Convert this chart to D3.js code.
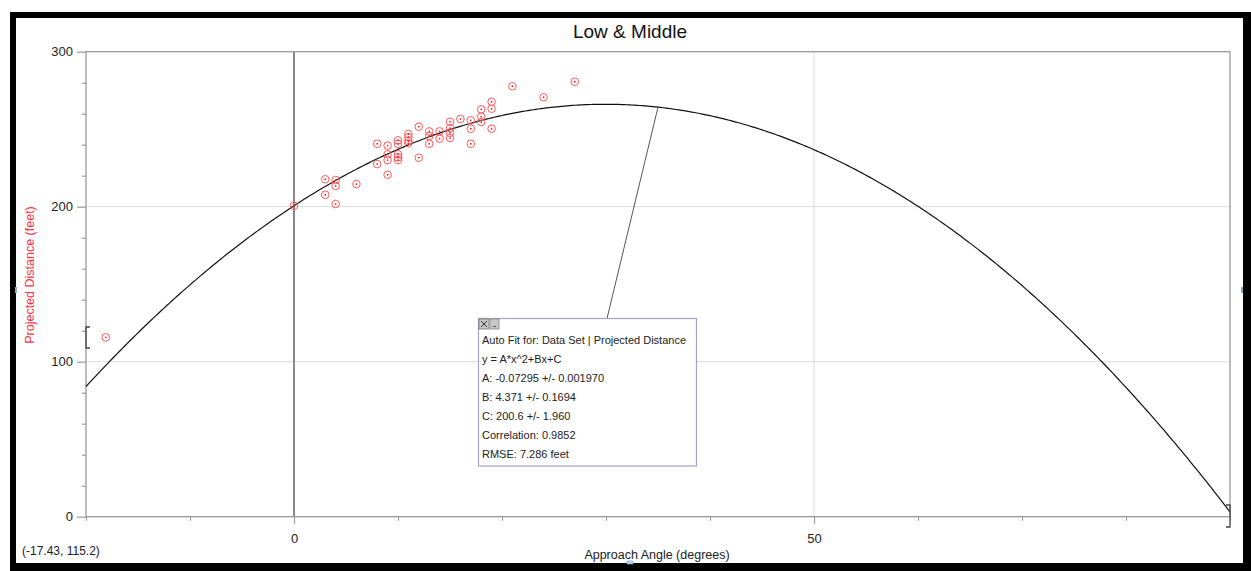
<html>
<head>
<style>
  body { margin: 0; background: #fff; }
  svg { font-family: "Liberation Sans", Arial, sans-serif; }
</style>
</head>
<body>
<svg id="chart" width="1251" height="571"></svg>
<script src="https://cdn.jsdelivr.net/npm/d3@7/dist/d3.min.js"></script>
<script>
// approach angle (degrees) and projected distance (feet)
let angles = [-18.1, 0, 3, 4, 4, 3, 4, 6, 8, 8, 9, 9, 9, 9, 10, 10, 10, 10, 10,
  11, 11, 11, 11, 12, 12, 13, 13, 13, 14, 14, 15, 15, 15, 15, 16, 17, 17, 17,
  18, 18, 18, 19, 19, 19, 21, 24, 27]
let distances = [115.7, 200.6, 217.7, 217.2, 213.4, 207.7, 201.7, 214.6, 240.6, 227.5,
  239.4, 233.8, 230.1, 220.6, 242.8, 240.6, 233.8, 231.9, 230.1,
  246.9, 244.8, 242.4, 240.9, 251.6, 231.6, 248.6, 245.6, 240.6, 248.6, 243.9,
  254.8, 250.6, 247.7, 244.3, 256.6, 255.7, 250.3, 240.6,
  262.8, 258.1, 254.6, 267.7, 263.2, 250.3, 277.7, 270.6, 280.6]

// auto fit y = A*x^2 + B*x + C
let fitA = -0.07295, fitB = 4.371, fitC = 200.6
let fitText = ["Auto Fit for: Data Set | Projected Distance", "y = A*x^2+Bx+C",
  "A: -0.07295 +/- 0.001970", "B: 4.371 +/- 0.1694", "C: 200.6 +/- 1.960",
  "Correlation: 0.9852", "RMSE: 7.286 feet"]

let xMajor = [0, 50]
let xMinor = [-20, -10, 10, 20, 30, 40, 60, 70, 80, 90]
let yMajor = [0, 100, 200, 300]
let yMinor = [20, 40, 60, 80, 120, 140, 160, 180, 220, 240, 260, 280]

let svg = d3.select("#chart")

// black frame
svg.append("rect").attr("x", 10).attr("y", 12).attr("width", 1241).attr("height", 559).attr("fill", "#000")
svg.append("rect").attr("x", 16).attr("y", 18).attr("width", 1227).attr("height", 545).attr("fill", "#fff")

let plotLeft = 86, plotTop = 51.7, plotRight = 1230, plotBottom = 516.7
let x = d3.scaleLinear().domain([-20, 90]).range([plotLeft, plotRight])
let y = d3.scaleLinear().domain([0, 300]).range([plotBottom, plotTop])

// grid
svg.selectAll("line.hgrid").data([100, 200]).enter().append("line")
  .attr("x1", plotLeft).attr("x2", plotRight).attr("y1", d => y(d)).attr("y2", d => y(d))
  .attr("stroke", "#dcdcdc").attr("stroke-width", 1)
svg.append("line").attr("x1", x(50)).attr("x2", x(50)).attr("y1", plotTop).attr("y2", plotBottom)
  .attr("stroke", "#dcdcdc").attr("stroke-width", 1)
svg.append("line").attr("x1", x(0)).attr("x2", x(0)).attr("y1", plotTop).attr("y2", plotBottom)
  .attr("stroke", "#8a8a8a").attr("stroke-width", 2)

// plot border
svg.append("rect").attr("x", plotLeft).attr("y", plotTop).attr("width", plotRight - plotLeft).attr("height", plotBottom - plotTop)
  .attr("fill", "none").attr("stroke", "#9a9a9a").attr("stroke-width", 1.3)

// axes
let yAxis = d3.axisLeft(y).tickValues(yMajor).tickSize(9).tickPadding(4)
let yg = svg.append("g").attr("transform", `translate(${plotLeft},0)`).call(yAxis)
let yAxisMinor = d3.axisLeft(y).tickValues(yMinor).tickSize(4).tickFormat("")
let ygm = svg.append("g").attr("transform", `translate(${plotLeft},0)`).call(yAxisMinor)

let xAxis = d3.axisBottom(x).tickValues(xMajor).tickSize(7).tickPadding(10)
let xg = svg.append("g").attr("transform", `translate(0,${plotBottom})`).call(xAxis)
let xAxisMinor = d3.axisBottom(x).tickValues(xMinor).tickSize(4).tickFormat("")
let xgm = svg.append("g").attr("transform", `translate(0,${plotBottom})`).call(xAxisMinor)

for (let g of [yg, ygm, xg, xgm]) {
  g.select(".domain").remove()
  g.selectAll("line").attr("stroke", "#9a9a9a").attr("stroke-width", 1.2)
  g.selectAll("text").attr("fill", "#222").style("font-size", "13px")
    .style("font-family", "'Liberation Sans', Arial, sans-serif")
}

// fitted curve
let curveData = d3.range(-20, 90.01, 0.25).map(v => [v, fitA * v * v + fitB * v + fitC])
let line = d3.line().x(d => x(d[0])).y(d => y(d[1]))
svg.append("path").datum(curveData).attr("d", line)
  .attr("fill", "none").attr("stroke", "#111").attr("stroke-width", 1.2)

// points
let pts = angles.map((a, i) => [a, distances[i]])
svg.selectAll("circle.pt").data(pts).enter().append("circle")
  .attr("cx", d => x(d[0])).attr("cy", d => y(d[1])).attr("r", 3.8)
  .attr("fill", "none").attr("stroke", "#ff5a5a").attr("stroke-width", 1)
svg.selectAll("circle.dot").data(pts).enter().append("circle")
  .attr("cx", d => x(d[0])).attr("cy", d => y(d[1])).attr("r", 0.9)
  .attr("fill", "#ff2020")

// range brackets (Logger Pro)
svg.append("path").attr("d", "M90,327 h-4 v21 h4").attr("fill", "none").attr("stroke", "#444").attr("stroke-width", 1.3)
svg.append("path").attr("d", "M1226,505 h4 v22 h-4").attr("fill", "none").attr("stroke", "#444").attr("stroke-width", 1.3)
svg.append("rect").attr("x", 15).attr("y", 287).attr("width", 2).attr("height", 6).attr("fill", "#8ab")
svg.append("rect").attr("x", 1241).attr("y", 287).attr("width", 2).attr("height", 6).attr("fill", "#8ab")
svg.append("rect").attr("x", 627).attr("y", 561).attr("width", 6).attr("height", 3).attr("fill", "#bcd4ee").attr("stroke", "#7fa3cc").attr("stroke-width", 0.6)

// leader from fit box to curve
let boxX = 478.5, boxY = 318.5, boxW = 218, boxH = 147.5
let anchor = 35
svg.append("line").attr("x1", 607).attr("y1", boxY)
  .attr("x2", x(anchor)).attr("y2", y(fitA * anchor * anchor + fitB * anchor + fitC))
  .attr("stroke", "#555").attr("stroke-width", 1)

// fit box
svg.append("rect").attr("x", boxX).attr("y", boxY).attr("width", boxW).attr("height", boxH)
  .attr("fill", "#fff").attr("stroke", "#a4a4c4").attr("stroke-width", 1.2)
svg.append("rect").attr("x", 479).attr("y", 319).attr("width", 10).attr("height", 10)
  .attr("fill", "#c8c8c8").attr("stroke", "#777").attr("stroke-width", 0.8)
svg.append("path").attr("d", "M481,321 l6,6 M487,321 l-6,6").attr("stroke", "#333").attr("stroke-width", 1)
svg.append("rect").attr("x", 490).attr("y", 319).attr("width", 9).attr("height", 10)
  .attr("fill", "#c8c8c8").attr("stroke", "#888").attr("stroke-width", 0.8)
svg.append("line").attr("x1", 493).attr("x2", 496).attr("y1", 326.5).attr("y2", 326.5).attr("stroke", "#555")

svg.selectAll("text.fit").data(fitText).enter().append("text")
  .attr("x", 482).attr("y", (d, i) => 343.6 + i * 19)
  .attr("fill", "#222").style("font-size", "11px").text(d => d)

// titles
svg.append("text").attr("x", 630).attr("y", 38).attr("text-anchor", "middle")
  .style("font-size", "19px").attr("fill", "#111").text("Low & Middle")
svg.append("text").attr("transform", "translate(34,275) rotate(-90)").attr("text-anchor", "middle")
  .style("font-size", "12.5px").attr("fill", "#ff3344").text("Projected Distance (feet)")
svg.append("text").attr("x", 657).attr("y", 559).attr("text-anchor", "middle")
  .style("font-size", "12.5px").attr("fill", "#222").text("Approach Angle (degrees)")
svg.append("text").attr("x", 22).attr("y", 555)
  .style("font-size", "12px").attr("fill", "#222").text("(-17.43, 115.2)")
</script>
</body>
</html>
